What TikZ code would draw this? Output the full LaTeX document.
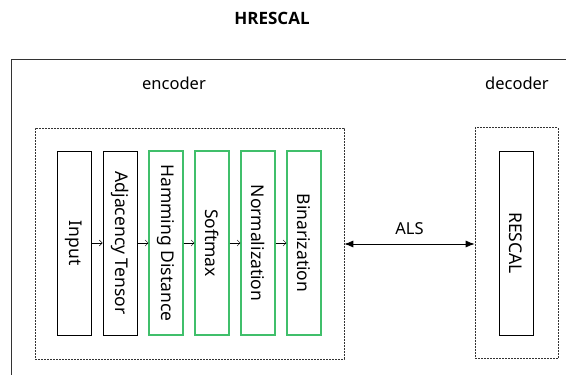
\documentclass[tikz,border=0pt]{standalone}
\usepackage{fontspec}
\setmainfont{Noto Sans}
\newfontfamily\titlefont{Open Sans}
\usetikzlibrary{arrows.meta}
\definecolor{boxgreen}{rgb}{0.25,0.75,0.42}
\tikzset{
  blk/.style={draw=black, line width=0.7pt, minimum width=34pt, minimum height=184pt, inner sep=0pt},
  gblk/.style={draw=boxgreen, line width=1.05pt, minimum width=34pt, minimum height=184pt, inner sep=0pt},
  vtext/.style={rotate=-90, font=\fontsize{17.5}{20}\selectfont},
  grp/.style={draw=black!80, dashed, dash pattern=on 2pt off 1pt, line width=0.6pt},
  lbl/.style={font=\fontsize{16.5}{19}\selectfont},
  flow/.style={-{Straight Barb[length=3pt,width=6pt]}, line width=0.5pt},
}
\begin{document}
\begin{tikzpicture}[x=1pt,y=-1pt]
\useasboundingbox (0,0) rectangle (566,375);
\begin{scope}
\clip (0,0) rectangle (566,375);
\draw[black!80, line width=0.8pt] (11,400) |- (600,59);
\end{scope}
\node[font=\titlefont\fontsize{17}{20}\selectfont\bfseries] (title) at (272,18) {HRESCAL};
\node[lbl] (enc) at (174,83) {encoder};
\node[lbl] (dec) at (517,83) {decoder};
\node[grp, minimum width=309pt, minimum height=231pt, inner sep=0pt] (encbox) at (189.5,243.5) {};
\node[grp, minimum width=83pt, minimum height=231pt, inner sep=0pt] (decbox) at (516.5,243) {};
\node[blk] (in) at (74,243) {};
\node[vtext] at (in) {Input};
\node[blk] (adj) at (120,243) {};
\node[vtext] at (adj) {Adjacency Tensor};
\node[gblk] (ham) at (166,243) {};
\node[vtext] at (ham) {Hamming Distance};
\node[gblk] (soft) at (212,243) {};
\node[vtext] at (soft) {Softmax};
\node[gblk] (norm) at (258,243) {};
\node[vtext] at (norm) {Normalization};
\node[gblk] (bin) at (304,243) {};
\node[vtext] at (bin) {Binarization};
\node[blk] (res) at (516,243) {};
\node[vtext] at (res) {RESCAL};
\draw[flow] (in) -- (adj);
\draw[flow] (adj) -- (ham);
\draw[flow] (ham) -- (soft);
\draw[flow] (soft) -- (norm);
\draw[flow] (norm) -- (bin);
\draw[{Latex[length=9pt,width=7pt]}-{Latex[length=9pt,width=7pt]}, line width=0.8pt] (encbox.east |- 0,244) -- node[above=6pt, lbl] {ALS} (decbox.west |- 0,244);
\end{tikzpicture}
\end{document}
